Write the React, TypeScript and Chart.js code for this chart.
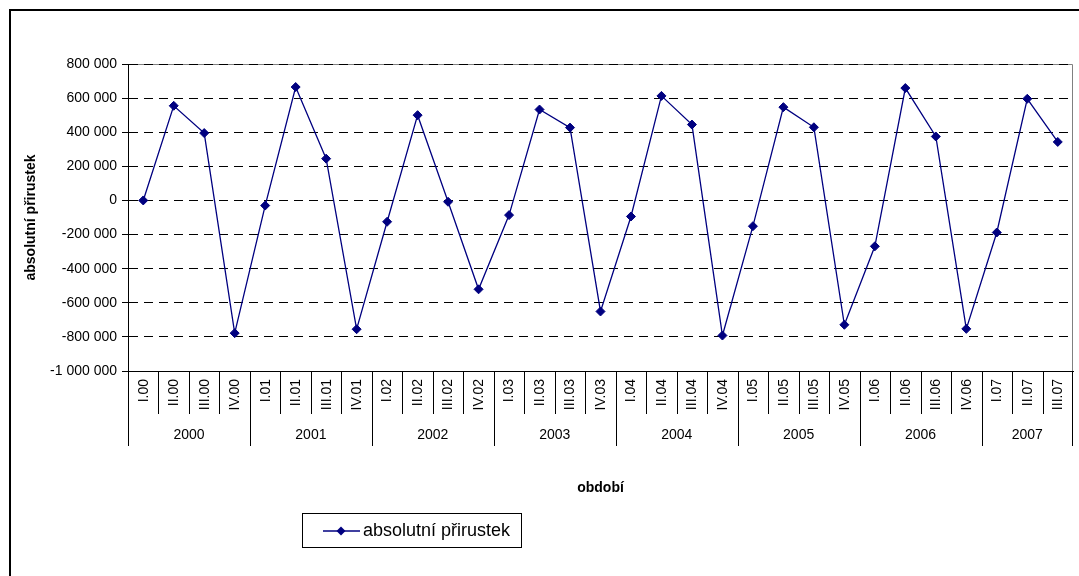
import React, { useEffect, useRef } from "react";
import { Chart, registerables } from "chart.js";

Chart.register(...registerables);

const quarterLabels = [
  "I.00", "II.00", "III.00", "IV.00",
  "I.01", "II.01", "III.01", "IV.01",
  "I.02", "II.02", "III.02", "IV.02",
  "I.03", "II.03", "III.03", "IV.03",
  "I.04", "II.04", "III.04", "IV.04",
  "I.05", "II.05", "III.05", "IV.05",
  "I.06", "II.06", "III.06", "IV.06",
  "I.07", "II.07", "III.07",
];

const years = ["2000", "2001", "2002", "2003", "2004", "2005", "2006", "2007"];
const quartersPerYear = [4, 4, 4, 4, 4, 4, 4, 3];

const absolutniPrirustek = [
  0, 555000, 395000, -778000,
  -30000, 665000, 245000, -755000,
  -125000, 500000, -8000, -521000,
  -86000, 533000, 427000, -651000,
  -94000, 613000, 445000, -792000,
  -151000, 547000, 429000, -729000,
  -269000, 659000, 375000, -753000,
  -188000, 596000, 343000,
];

const seriesName = "absolutní přirustek";
const yTitle = "absolutní přirustek";
const xTitle = "období";
const yMin = -1000000;
const yMax = 800000;
const yStep = 200000;

const FONT = "'Liberation Sans', Arial, sans-serif";
const NAVY = "#000080";

function fmt(v: number): string {
  const s = Math.abs(v).toString().replace(/\B(?=(\d{3})+(?!\d))/g, " ");
  return v < 0 ? "-" + s : s;
}

const overlay = {
  id: "overlay",
  beforeDraw(chart: any) {
    const { ctx, chartArea: a } = chart;
    ctx.save();
    ctx.fillStyle = "#fff";
    ctx.fillRect(0, 0, chart.width, chart.height);
    // outer frame
    ctx.strokeStyle = "#000";
    ctx.lineWidth = 2;
    ctx.strokeRect(10, 10, 3000, 3000);
    // plot area frame (top + right)
    ctx.strokeStyle = "#808080";
    ctx.lineWidth = 1;
    const t = Math.round(a.top) + 0.5;
    const r = Math.round(a.right) - 0.5;
    ctx.beginPath();
    ctx.moveTo(a.left, t);
    ctx.lineTo(r, t);
    ctx.lineTo(r, a.bottom);
    ctx.stroke();
    ctx.restore();
  },
  afterDraw(chart: any) {
    const { ctx, chartArea: a } = chart;
    const xs = chart.scales.x;
    const x0 = xs.getPixelForValue(0);
    const step = xs.getPixelForValue(1) - x0;
    const bottom = Math.round(a.bottom);
    ctx.save();
    ctx.font = `14px ${FONT}`;
    ctx.fillStyle = "#000";
    // quarter labels (rotated)
    quarterLabels.forEach((lab, i) => {
      const x = xs.getPixelForValue(i);
      ctx.save();
      ctx.translate(x + 0.5, bottom + 8);
      ctx.rotate(-Math.PI / 2);
      ctx.textAlign = "right";
      ctx.textBaseline = "middle";
      ctx.fillText(lab, 0, 0);
      ctx.restore();
    });
    // separators
    const yearBounds = new Set<number>();
    let acc = 0;
    yearBounds.add(0);
    quartersPerYear.forEach((n) => {
      acc += n;
      yearBounds.add(acc);
    });
    ctx.strokeStyle = "#000";
    ctx.lineWidth = 1;
    for (let k = 0; k <= quarterLabels.length; k++) {
      let x = Math.round(x0 + (k - 0.5) * step) + 0.5;
      if (k === quarterLabels.length) x = Math.round(a.right) - 0.5;
      const len = yearBounds.has(k) ? 75 : 43;
      ctx.beginPath();
      ctx.moveTo(x, bottom);
      ctx.lineTo(x, bottom + len);
      ctx.stroke();
    }
    // year labels
    ctx.textAlign = "center";
    ctx.textBaseline = "middle";
    let start = 0;
    years.forEach((y, i) => {
      const n = quartersPerYear[i];
      const cx = (xs.getPixelForValue(start) + xs.getPixelForValue(start + n - 1)) / 2;
      ctx.fillText(y, cx, bottom + 64);
      start += n;
    });
    // axis titles
    ctx.font = `bold 14px ${FONT}`;
    ctx.fillText(xTitle, (a.left + a.right) / 2, 488);
    ctx.save();
    ctx.translate(31, (a.top + a.bottom) / 2);
    ctx.rotate(-Math.PI / 2);
    ctx.fillText(yTitle, 0, 0);
    ctx.restore();
    // legend
    ctx.strokeStyle = "#000";
    ctx.lineWidth = 1;
    ctx.strokeRect(302.5, 513.5, 219, 34);
    ctx.strokeStyle = NAVY;
    ctx.lineWidth = 1.5;
    ctx.beginPath();
    ctx.moveTo(323, 531);
    ctx.lineTo(360, 531);
    ctx.stroke();
    ctx.fillStyle = NAVY;
    ctx.beginPath();
    ctx.moveTo(341, 526.5);
    ctx.lineTo(345.5, 531);
    ctx.lineTo(341, 535.5);
    ctx.lineTo(336.5, 531);
    ctx.closePath();
    ctx.fill();
    ctx.fillStyle = "#000";
    ctx.font = `18px ${FONT}`;
    ctx.textAlign = "left";
    ctx.fillText(seriesName, 363, 531);
    ctx.restore();
  },
};

export default function App() {
  const ref = useRef<HTMLCanvasElement | null>(null);
  useEffect(() => {
    if (!ref.current) return;
    const chart = new Chart(ref.current, {
      type: "line",
      data: {
        labels: quarterLabels,
        datasets: [
          {
            label: seriesName,
            data: absolutniPrirustek,
            borderColor: NAVY,
            backgroundColor: NAVY,
            borderWidth: 1.3,
            pointStyle: "rectRot",
            pointRadius: 4.5,
            pointBorderWidth: 1,
            pointBackgroundColor: NAVY,
            pointBorderColor: NAVY,
            tension: 0,
          },
        ],
      },
      options: {
        responsive: false,
        animation: false,
        events: [],
        layout: { padding: { top: 64, left: 0, right: 6, bottom: 0 } },
        plugins: {
          legend: { display: false },
          tooltip: { enabled: false },
          title: { display: false },
        },
        scales: {
          x: {
            type: "category",
            offset: true,
            grid: { display: false, drawTicks: false },
            ticks: { display: false },
            border: { display: true, color: "#000", width: 1 },
            afterFit: (s: any) => {
              s.height = 205;
            },
          },
          y: {
            min: yMin,
            max: yMax,
            ticks: {
              stepSize: yStep,
              padding: 5,
              color: "#000",
              font: { family: FONT, size: 14 },
              callback: (v: any) => fmt(Number(v)),
            },
            grid: {
              color: (c: any) => (c.tick && c.tick.value === yMin ? "rgba(0,0,0,0)" : "#000"),
              lineWidth: 1,
              drawTicks: true,
              tickLength: 6,
              tickColor: "#000",
            },
            border: { display: true, color: "#000", width: 1, dash: [9, 6] },
            afterFit: (s: any) => {
              s.width = 128;
            },
          },
        },
      },
      plugins: [overlay],
    });
    return () => chart.destroy();
  }, []);
  return (
    <div style={{ position: "fixed", left: 0, top: 0, width: 1079, height: 576 }}>
      <canvas ref={ref} width={1079} height={576} style={{ width: 1079, height: 576, display: "block" }} />
    </div>
  );
}
